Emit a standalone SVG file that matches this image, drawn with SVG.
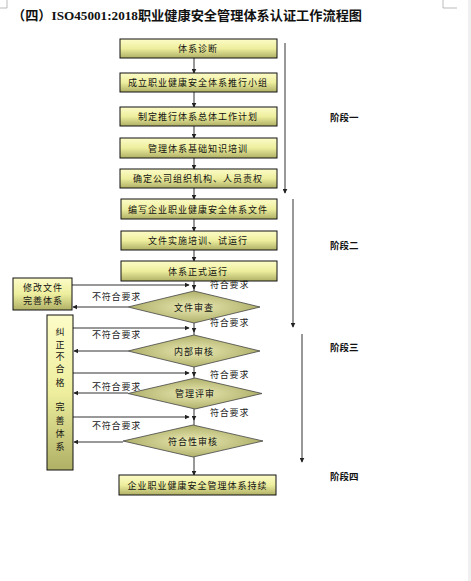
<svg xmlns="http://www.w3.org/2000/svg" width="471" height="581" viewBox="0 0 471 581">
<defs>
<linearGradient id="gBox" x1="0" y1="0" x2="0" y2="1">
<stop offset="0" stop-color="#fcfcc8"/>
<stop offset="0.5" stop-color="#eeee9e"/>
<stop offset="1" stop-color="#b0b066"/>
</linearGradient>
<radialGradient id="gDia" cx="0.5" cy="0.5" r="0.6">
<stop offset="0" stop-color="#eaeab4"/>
<stop offset="1" stop-color="#a4a45c"/>
</radialGradient>
<marker id="ah" viewBox="0 0 8 8" refX="7" refY="4" markerWidth="5" markerHeight="5" orient="auto" markerUnits="userSpaceOnUse">
<path d="M0,0 L8,4 L0,8 z" fill="#222"/>
</marker>
<style>
.box{fill:url(#gBox);stroke:#111;stroke-width:1}
.dia{fill:url(#gDia);stroke:#444;stroke-width:0.8}
.t{font-family:"Noto Sans CJK SC","Liberation Sans",sans-serif;font-size:9px;fill:#111;text-anchor:middle;letter-spacing:1px}
.lb{font-family:"Noto Sans CJK SC","Liberation Sans",sans-serif;font-size:9px;fill:#222;letter-spacing:0.8px}
.st{font-family:"Noto Sans CJK SC","Liberation Sans",sans-serif;font-size:9.5px;font-weight:bold;fill:#111}
.ln{stroke:#333;stroke-width:1;fill:none}
.arr{stroke:#333;stroke-width:1;fill:none;marker-end:url(#ah)}
</style>
</defs>
<rect x="0" y="0" width="471" height="581" fill="#ffffff"/>
<rect x="468" y="0" width="3" height="581" fill="#f0f0f0"/>
<path d="M7,0 V8 H0" stroke="#aaa" fill="none" stroke-width="0.8"/>
<path d="M443,0 V8 H457" stroke="#aaa" fill="none" stroke-width="0.8"/>
<text x="12" y="20" textLength="350" lengthAdjust="spacingAndGlyphs" style="font-family:'Liberation Serif','Noto Sans CJK SC',serif;font-size:13px;font-weight:bold;fill:#111">（四）ISO45001:2018职业健康安全管理体系认证工作流程图</text>

<g id="connectors">
<line class="arr" x1="194" y1="58" x2="194" y2="73"/>
<line class="arr" x1="194" y1="92" x2="194" y2="107"/>
<line class="arr" x1="194" y1="126" x2="194" y2="138"/>
<line class="arr" x1="194" y1="158" x2="194" y2="169"/>
<line class="arr" x1="194" y1="188" x2="194" y2="199"/>
<line class="arr" x1="194" y1="219" x2="194" y2="231"/>
<line class="arr" x1="194" y1="250" x2="194" y2="261"/>
<line class="arr" x1="194" y1="281" x2="194" y2="289"/>
<line class="ln" x1="194" y1="288" x2="194" y2="291"/>
<line class="arr" x1="194" y1="323" x2="194" y2="332"/>
<line class="ln" x1="194" y1="331" x2="194" y2="335"/>
<line class="arr" x1="194" y1="367" x2="194" y2="376"/>
<line class="ln" x1="194" y1="375" x2="194" y2="378"/>
<line class="arr" x1="194" y1="409" x2="194" y2="420"/>
<line class="ln" x1="194" y1="419" x2="194" y2="425"/>
<line class="arr" x1="194" y1="457" x2="194" y2="475"/>
<line class="arr" x1="72" y1="285" x2="189" y2="285"/>
<line class="arr" x1="128" y1="307" x2="73" y2="307"/>
<line class="arr" x1="73" y1="328" x2="189" y2="328"/>
<line class="arr" x1="128" y1="351" x2="74" y2="351"/>
<line class="arr" x1="73" y1="373" x2="189" y2="373"/>
<line class="arr" x1="128" y1="393" x2="74" y2="393"/>
<line class="arr" x1="73" y1="417" x2="189" y2="417"/>
<line class="arr" x1="123" y1="442" x2="74" y2="442"/>
<line class="arr" x1="285" y1="43" x2="285" y2="193"/>
<line class="arr" x1="293" y1="199" x2="293" y2="327"/>
<line class="arr" x1="302" y1="334" x2="302" y2="462"/>
</g>

<g id="n1"><rect class="box" x="120" y="39" width="157" height="19"/><text class="t" x="198" y="52">体系诊断</text></g>
<g id="n2"><rect class="box" x="120" y="73" width="157" height="19"/><text class="t" x="198" y="86">成立职业健康安全体系推行小组</text></g>
<g id="n3"><rect class="box" x="120" y="107" width="157" height="19"/><text class="t" x="198" y="120">制定推行体系总体工作计划</text></g>
<g id="n4"><rect class="box" x="120" y="138" width="157" height="20"/><text class="t" x="198" y="151.5">管理体系基础知识培训</text></g>
<g id="n5"><rect class="box" x="120" y="169" width="157" height="19"/><text class="t" x="198" y="182">确定公司组织机构、人员责权</text></g>
<g id="n6"><rect class="box" x="121" y="199" width="156" height="20"/><text class="t" x="198" y="212.5">编写企业职业健康安全体系文件</text></g>
<g id="n7"><rect class="box" x="121" y="231" width="156" height="19"/><text class="t" x="198" y="244">文件实施培训、试运行</text></g>
<g id="n8"><rect class="box" x="121" y="261" width="156" height="20"/><text class="t" x="198" y="274.5">体系正式运行</text></g>
<g id="d1"><polygon class="dia" points="194,291 260,307 194,323 128,307"/><text class="t" x="194" y="310.5">文件审查</text></g>
<g id="d2"><polygon class="dia" points="194,335 260,351 194,367 128,351"/><text class="t" x="194" y="354.5">内部审核</text></g>
<g id="d3"><polygon class="dia" points="195,378 262,393.5 195,409 128,393.5"/><text class="t" x="195" y="397">管理评审</text></g>
<g id="d4"><polygon class="dia" points="193,425 263,441 193,457 123,441"/><text class="t" x="193" y="444.5">符合性审核</text></g>
<g id="n9"><rect class="box" x="119" y="475" width="157" height="20"/><text class="t" x="197.5" y="488.5">企业职业健康安全管理体系持续</text></g>
<g id="l1"><rect class="box" x="13" y="278" width="59" height="32"/><text class="t" x="43" y="290.5">修改文件</text><text class="t" x="43" y="304">完善体系</text></g>
<g id="l2"><rect class="box" x="47" y="315" width="26" height="155"/>
<text class="t" x="60" style="letter-spacing:0">
<tspan x="60" y="335">纠</tspan><tspan x="60" y="348">正</tspan><tspan x="60" y="360">不</tspan><tspan x="60" y="372">合</tspan><tspan x="60" y="386">格</tspan><tspan x="60" y="410">完</tspan><tspan x="60" y="424">善</tspan><tspan x="60" y="437">体</tspan><tspan x="60" y="450">系</tspan></text></g>

<g id="labels">
<text class="lb" x="210" y="288">符合要求</text>
<text class="lb" x="210" y="326">符合要求</text>
<text class="lb" x="210" y="378">符合要求</text>
<text class="lb" x="210" y="416">符合要求</text>
<text class="lb" x="92" y="300">不符合要求</text>
<text class="lb" x="92" y="338">不符合要求</text>
<text class="lb" x="92" y="390">不符合要求</text>
<text class="lb" x="92" y="429">不符合要求</text>
<text class="st" x="330" y="121">阶段一</text>
<text class="st" x="330" y="249">阶段二</text>
<text class="st" x="330" y="351">阶段三</text>
<text class="st" x="330" y="480">阶段四</text>
</g>
</svg>
